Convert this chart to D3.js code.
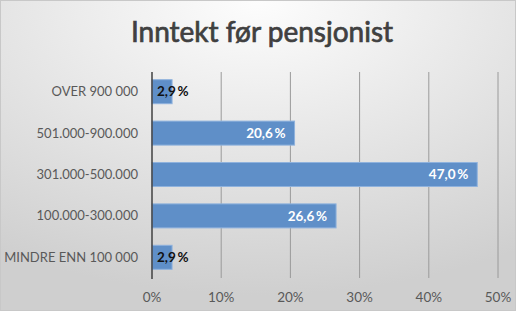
<!DOCTYPE html>
<html>
<head>
<meta charset="utf-8">
<script src="https://cdn.jsdelivr.net/npm/d3@7"></script>
<style>
  html, body { margin: 0; padding: 0; background: #fff; }
  svg { display: block; }
</style>
</head>
<body>
<div id="chart"></div>
<script>
'use strict';

var categories = ["OVER 900 000", "501.000-900.000", "301.000-500.000", "100.000-300.000", "MINDRE ENN 100 000"];
var values = [2.9, 20.6, 47.0, 26.6, 2.9];
var valueLabels = ["2,9\u2009%", "20,6\u2009%", "47,0\u2009%", "26,6\u2009%", "2,9\u2009%"];
var ticks = [0, 10, 20, 30, 40, 50];

var width = 516, height = 311;
var font = "Lato, 'Open Sans', sans-serif";
var svg = d3.select("#chart").append("svg")
    .attr("width", width).attr("height", height);

// background gradient, light in the top middle, greyer at the edges
var defs = svg.append("defs");
var grad = defs.append("radialGradient")
    .attr("id", "bg").attr("cx", "50%").attr("cy", "0%").attr("r", "95%")
    .attr("gradientUnits", "objectBoundingBox");
grad.append("stop").attr("offset", "0%").attr("stop-color", "#fdfdfd");
grad.append("stop").attr("offset", "100%").attr("stop-color", "#cfcfcf");

svg.append("rect")
    .attr("x", 0.5).attr("y", 0.5)
    .attr("width", width - 1).attr("height", height - 1)
    .attr("fill", "url(#bg)")
    .attr("stroke", "#c8c8c8");

// title, light stroke to get a semibold look
svg.append("text")
    .text("Inntekt før pensjonist")
    .attr("x", 262).attr("y", 42)
    .attr("text-anchor", "middle")
    .attr("font-family", font)
    .attr("font-size", "28px")
    .attr("fill", "#404040")
    .attr("stroke", "#404040").attr("stroke-width", 0.7);

var x = d3.scaleLinear().domain([0, 50]).range([152, 498]);
var y = d3.scaleBand().domain(categories).range([71, 278]).paddingInner(0.42).paddingOuter(0.21);

// gridlines
svg.append("g").selectAll("line")
    .data(ticks.slice(1))
    .enter().append("line")
    .attr("x1", function(d){return x(d);}).attr("x2", function(d){return x(d);})
    .attr("y1", 72).attr("y2", 278)
    .attr("stroke", "#9a9a9a").attr("stroke-width", 1);

// bars
svg.append("g").selectAll("rect")
    .data(values)
    .enter().append("rect")
    .attr("x", x(0))
    .attr("y", function(d, i){return y(categories[i]);})
    .attr("width", function(d){return x(d) - x(0);})
    .attr("height", y.bandwidth())
    .attr("fill", "#5f8fc8")
    .attr("stroke", "#8fb2dd").attr("stroke-width", 1);

// axis line
svg.append("line")
    .attr("x1", x(0)).attr("x2", x(0))
    .attr("y1", 72).attr("y2", 279)
    .attr("stroke", "#404040").attr("stroke-width", 1.5);

// category labels
svg.append("g").selectAll("text")
    .data(categories)
    .enter().append("text")
    .text(function(d){return d;})
    .attr("x", 138)
    .attr("y", function(d){return y(d) + y.bandwidth() / 2;})
    .attr("dy", "0.35em")
    .attr("text-anchor", "end")
    .attr("font-family", font)
    .attr("font-size", "13px")
    .attr("fill", "#595959");

// tick labels
svg.append("g").selectAll("text")
    .data(ticks)
    .enter().append("text")
    .text(function(d){return d + "%";})
    .attr("x", function(d){return x(d);})
    .attr("y", 302)
    .attr("text-anchor", "middle")
    .attr("font-family", font)
    .attr("font-size", "13.5px")
    .attr("fill", "#595959");

// value labels
svg.append("g").selectAll("text")
    .data(values)
    .enter().append("text")
    .text(function(d, i){return valueLabels[i];})
    .attr("x", function(d){return d < 10 ? x(0) + 5 : x(d) - 9;})
    .attr("y", function(d, i){return y(categories[i]) + y.bandwidth() / 2;})
    .attr("dy", "0.35em")
    .attr("text-anchor", function(d){return d < 10 ? "start" : "end";})
    .attr("font-family", font)
    .attr("font-weight", "bold")
    .attr("font-size", "13.5px")
    .attr("fill", function(d){return d < 10 ? "#111" : "#fff";});
</script>
</body>
</html>
